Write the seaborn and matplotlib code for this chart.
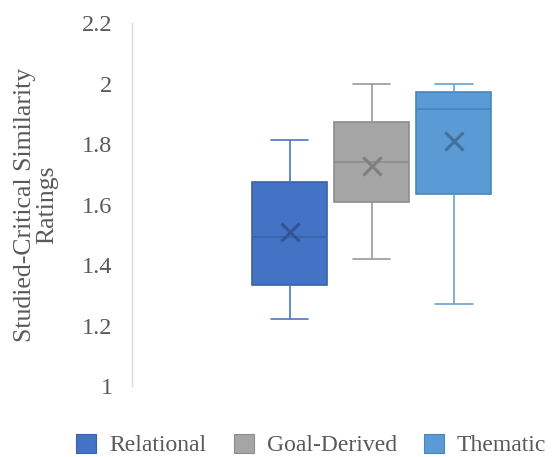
import numpy as np
import pandas as pd
import seaborn as sns
import matplotlib.pyplot as plt
from matplotlib.patches import Patch

# Box statistics
groups = ["Relational", "Goal-Derived", "Thematic"]
lows = [1.221, 1.42, 1.271]
q1s = [1.334, 1.609, 1.636]
medians = [1.493, 1.741, 1.917]
q3s = [1.673, 1.873, 1.972]
highs = [1.813, 2.0, 2.0]
means = [1.510, 1.727, 1.811]

fills = ["#4472C4", "#A5A5A5", "#5B9BD5"]
edges = ["#3A62A8", "#8C8C8C", "#4A86BD"]
whisker_cols = ["#4D76C2", "#9A9A9A", "#6A9FD0"]
mean_cols = ["#2F5597", "#7F7F7F", "#41719C"]

# five values per group reproduce the five-number summary exactly
rows = []
for g, lo, a, m, b, hi in zip(groups, lows, q1s, medians, q3s, highs):
    for v in (lo, a, m, b, hi):
        rows.append((g, v))
df = pd.DataFrame(rows, columns=["group", "value"])

sns.set_theme(style="white")
plt.rcParams["font.family"] = ["Liberation Serif", "DejaVu Serif"]

fig = plt.figure(figsize=(5.58, 4.57), dpi=100)
ax = fig.add_axes([132 / 558, 71 / 457, (558 - 132) / 558, (386 - 23) / 457])

for g, fc, ec, wc in zip(groups, fills, edges, whisker_cols):
    sns.boxplot(
        data=df[df.group == g], x="group", y="value", order=groups,
        color=fc, linecolor=ec, saturation=1, width=0.915, whis=(0, 100),
        linewidth=1.2, showfliers=False, ax=ax,
        boxprops=dict(facecolor=fc, edgecolor=ec),
        whiskerprops=dict(color=wc, linewidth=1.2),
        capprops=dict(color=wc, linewidth=1.2),
        medianprops=dict(color=ec, linewidth=1.2),
    )

sns.stripplot(
    x=groups, y=means, hue=groups, palette=mean_cols, order=groups,
    marker="x", s=13, linewidth=2.2, jitter=False, legend=False, ax=ax,
)

ax.set_ylim(1, 2.2)
ax.set_yticks(np.arange(1, 2.21, 0.2))
ax.set_yticklabels(["1", "1.2", "1.4", "1.6", "1.8", "2", "2.2"])
ax.set_xlim(-1.92, 3.27)
ax.set_xticks([])
ax.set_xlabel("")
ax.set_ylabel("Studied-Critical Similarity\nRatings", fontsize=18.5,
              color="#595959", labelpad=17, linespacing=1.0)
ax.tick_params(axis="y", labelsize=17.5, labelcolor="#595959", pad=14, length=0)

for side in ["top", "right", "bottom"]:
    ax.spines[side].set_visible(False)
ax.spines["left"].set_color("#D9D9D9")
ax.spines["left"].set_linewidth(1.0)

handles = [Patch(facecolor=fc, edgecolor=ec, linewidth=0.8) for fc, ec in zip(fills, edges)]
fig.legend(handles, groups, loc="center", bbox_to_anchor=(0.558, 0.026), ncol=3,
           frameon=False, fontsize=17, labelcolor="#595959",
           handlelength=0.85, handleheight=0.85, handletextpad=0.55, columnspacing=1.15)

fig.savefig("out.png", dpi=100)
